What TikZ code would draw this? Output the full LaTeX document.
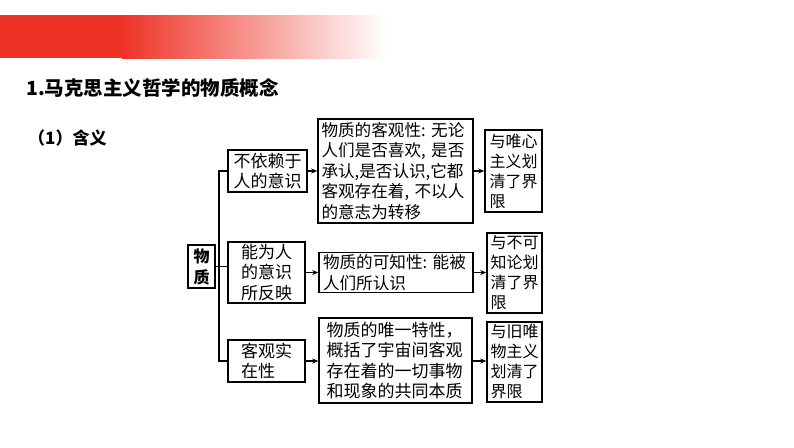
\documentclass[tikz,border=0pt]{standalone}
\usepackage{fontspec}
\newfontfamily\cjk{Noto Sans CJK SC}
\usetikzlibrary{arrows.meta}
\definecolor{barred}{HTML}{EE3226}
\tikzset{
  box/.style={draw=black, line width=1.6pt, inner sep=0pt, align=left,
    font=\cjk\fontsize{17}{20.5}\selectfont},
  bbox/.style={box, font=\cjk\fontsize{16.6}{20.5}\selectfont},
  cbox/.style={box, font=\cjk\fontsize{16}{20}\selectfont},
  conn/.style={line width=1.3pt},
  arr/.style={line width=1.3pt, -{Stealth[length=6pt,width=5pt]}},
}
\begin{document}
\begin{tikzpicture}[x=1pt,y=-1pt]
\useasboundingbox (0,0) rectangle (794,447);
% header bar
\fill[barred] (0,15) rectangle (122,58);
\shade[left color=barred, right color=white] (121.5,15) rectangle (386,58);
% titles
\node[anchor=west, font=\cjk\bfseries\fontsize{19.5}{22}\selectfont, inner sep=0pt] (title) at (26,88) {1.马克思主义哲学的物质概念};
\node[anchor=west, font=\cjk\bfseries\fontsize{17}{20}\selectfont, inner sep=0pt] (sub) at (28,138) {（1）含义};
% boxes
\node[box, font=\cjk\bfseries\fontsize{16}{21}\selectfont, align=center, minimum width=27pt, minimum height=43pt] (wz) at (201.5,266.5) {物\\质};
\node[box, text width=68pt, minimum width=79pt, minimum height=42pt] (a1) at (267.5,171) {不依赖于\\人的意识};
\node[bbox, text width=148pt, minimum width=155pt, minimum height=104pt] (b1) at (395.5,171) {物质的客观性:~无论\\人们是否喜欢,~是否\\承认,是否认识,它都\\客观存在着,~不以人\\的意志为转移};
\node[cbox, text width=48pt, minimum width=57pt, minimum height=82pt] (c1) at (513.5,171) {与唯心\\主义划\\清了界\\限};
\node[box, text width=51pt, minimum width=77pt, minimum height=61pt] (a2) at (266.5,272.5) {能为人\\的意识\\所反映};
\node[bbox, text width=146pt, minimum width=154pt, minimum height=40pt] (b2) at (396,272.5) {物质的可知性:~能被\\人们所认识};
\node[cbox, text width=48pt, minimum width=55pt, minimum height=80pt] (c2) at (514.5,273) {与不可\\知论划\\清了界\\限};
\node[box, text width=51pt, minimum width=77pt, minimum height=42pt] (a3) at (266.5,361) {客观实\\在性};
\node[box, text width=138pt, minimum width=153pt, minimum height=85pt] (b3) at (395.5,360.5) {物质的唯一特性，\\概括了宇宙间客观\\存在着的一切事物\\和现象的共同本质};
\node[cbox, text width=48pt, minimum width=55pt, minimum height=80pt] (c3) at (514.5,362) {与旧唯\\物主义\\划清了\\界限};
% spine
\coordinate (s1) at (219,171);
\coordinate (s2) at (219,266.5);
\coordinate (s3) at (219,361);
\draw[conn] (wz.east) -- (s2);
\draw[conn] (a1.west) -- (s1) -- (s3) -- (a3.west);
\draw[conn] (s2) -- (s2 -| a2.west);
% arrows
\draw[arr] (a1.east) -- (a1.east -| b1.west);
\draw[arr] (b1.east) -- (b1.east -| c1.west);
\draw[arr] (a2.east) -- (a2.east -| b2.west);
\draw[arr] (b2.east) -- (b2.east -| c2.west);
\draw[arr] (a3.east) -- (a3.east -| b3.west);
\draw[arr] (a3.east -| b3.east) -- (a3.east -| c3.west);
\end{tikzpicture}
\end{document}
